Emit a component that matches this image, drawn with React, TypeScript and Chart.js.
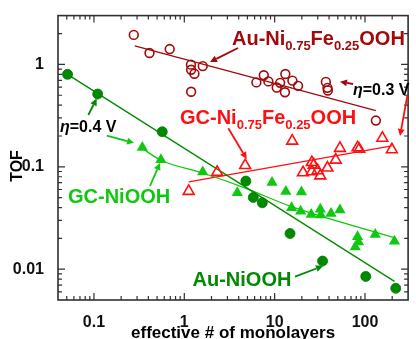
import React, { useEffect, useRef } from 'react';
import { Chart, registerables } from 'chart.js';

Chart.register(...registerables);

const FONT = '"Liberation Sans", Arial, Helvetica, sans-serif';

// ---- data ----
const auNiOOH_x = [0.051, 0.11, 0.57, 4.8, 5.8, 7.3, 14.8, 33.9, 102, 219];
const auNiOOH_y = [0.8, 0.514, 0.22, 0.0725, 0.0502, 0.0445, 0.0223, 0.012, 0.0085, 0.0065];

const gcNiOOH_x = [0.343, 0.551, 1.6, 3.86, 9.35, 13.3, 19.8, 15.4, 19.4, 25.4, 32.0, 32.4, 42.1, 52.8, 82.7, 84.8, 78.1, 129.7, 212];
const gcNiOOH_y = [0.154, 0.117, 0.089, 0.0558, 0.0701, 0.0575, 0.0567, 0.0398, 0.0368, 0.0342, 0.0385, 0.0339, 0.035, 0.0379, 0.0207, 0.0184, 0.0165, 0.0218, 0.0187];

const auNiFe_x = [0.276, 0.412, 0.689, 1.185, 1.19, 1.294, 1.19, 1.6, 6.28, 7.58, 8.52, 10.54, 11.5, 13.13, 13.0, 15.72, 18.17, 36.9, 38.4, 38.8, 132];
const auNiFe_y = [1.944, 1.293, 1.413, 0.995, 0.887, 0.812, 0.541, 0.963, 0.668, 0.784, 0.683, 0.595, 0.661, 0.807, 0.535, 0.695, 0.618, 0.675, 0.591, 0.557, 0.283];

const gcNiFe_x = [1.119, 2.31, 4.72, 15.64, 20.6, 25.8, 27.1, 25.8, 29.9, 32.0, 38.4, 47.4, 52.8, 82.7, 86.3, 155.6, 198.2];
const gcNiFe_y = [0.0577, 0.0886, 0.1034, 0.1788, 0.0879, 0.1105, 0.1043, 0.0899, 0.0919, 0.0818, 0.0976, 0.1165, 0.152, 0.154, 0.1487, 0.191, 0.1474];

// fit lines
const fitAuNiOOH_x = [0.051, 212];
const fitAuNiOOH_y = [0.8, 0.0076];
const fitGcNiOOH_x = [0.343, 0.551, 1.6, 4.8, 15.4, 215];
const fitGcNiOOH_y = [0.151, 0.116, 0.087, 0.0617, 0.0408, 0.0202];
const fitAuNiFe_x = [0.283, 132];
const fitAuNiFe_y = [1.52, 0.353];
const fitGcNiFe_x = [1.12, 198];
const fitGcNiFe_y = [0.0713, 0.16];

// axes
const xTickValues = [0.1, 1, 10, 100];
const xTickLabels = ['0.1', '1', '10', '100'];
const yTickValues = [0.01, 0.1, 1];
const yTickLabels = ['0.01', '0.1', '1'];
const xMinor = [0.04, 0.05, 0.06, 0.07, 0.08, 0.09, 0.2, 0.3, 0.4, 0.5, 0.6, 0.7, 0.8, 0.9, 2, 3, 4, 5, 6, 7, 8, 9, 20, 30, 40, 50, 60, 70, 80, 90, 200];
const yMinor = [0.005, 0.006, 0.007, 0.008, 0.009, 0.02, 0.03, 0.04, 0.05, 0.06, 0.07, 0.08, 0.09, 0.2, 0.3, 0.4, 0.5, 0.6, 0.7, 0.8, 0.9, 2];

const xTitle = 'effective # of monolayers';
const yTitle = 'TOF';

// colors
const DARK_RED = '#a00a0a';
const RED = '#ff1010';
const DARK_GREEN = '#008a00';
const LIGHT_GREEN = '#10c810';

type Part = { t: string; sub?: boolean; italic?: boolean };
const labels: { parts: Part[]; x: number; y: number; color: string; size: number }[] = [
  { parts: [{ t: 'Au-Ni' }, { t: '0.75', sub: true }, { t: 'Fe' }, { t: '0.25', sub: true }, { t: 'OOH' }], x: 232, y: 44.7, color: DARK_RED, size: 20 },
  { parts: [{ t: 'GC-Ni' }, { t: '0.75', sub: true }, { t: 'Fe' }, { t: '0.25', sub: true }, { t: 'OOH' }], x: 180, y: 123.5, color: RED, size: 20 },
  { parts: [{ t: 'GC-NiOOH' }], x: 68, y: 203, color: LIGHT_GREEN, size: 20 },
  { parts: [{ t: 'Au-NiOOH' }], x: 192.5, y: 286, color: DARK_GREEN, size: 20 },
  { parts: [{ t: 'η', italic: true }, { t: '=0.4 V' }], x: 60, y: 131.5, color: '#000', size: 16 },
  { parts: [{ t: 'η', italic: true }, { t: '=0.3 V' }], x: 353, y: 95, color: '#000', size: 16 },
];

const arrows: { x1: number; y1: number; x2: number; y2: number; color: string }[] = [
  { x1: 238, y1: 48, x2: 210, y2: 62, color: DARK_RED },
  { x1: 353, y1: 84, x2: 340, y2: 81.7, color: DARK_RED },
  { x1: 407.3, y1: 96, x2: 400, y2: 136, color: RED },
  { x1: 228.3, y1: 128.3, x2: 246.7, y2: 159, color: RED },
  { x1: 88.3, y1: 115, x2: 96.7, y2: 98.5, color: DARK_GREEN },
  { x1: 106.7, y1: 135.7, x2: 134, y2: 142.8, color: LIGHT_GREEN },
  { x1: 150, y1: 186, x2: 160, y2: 163, color: LIGHT_GREEN },
  { x1: 295, y1: 276.7, x2: 323, y2: 266, color: DARK_GREEN },
];

function zip(xs: number[], ys: number[]) {
  return xs.map((x, i) => ({ x, y: ys[i] }));
}

function drawArrow(ctx: CanvasRenderingContext2D, a: { x1: number; y1: number; x2: number; y2: number; color: string }) {
  const dx = a.x2 - a.x1;
  const dy = a.y2 - a.y1;
  const len = Math.hypot(dx, dy);
  const ux = dx / len;
  const uy = dy / len;
  const head = 7;
  const hw = 3.5;
  const bx = a.x2 - ux * head;
  const by = a.y2 - uy * head;
  ctx.save();
  ctx.strokeStyle = a.color;
  ctx.fillStyle = a.color;
  ctx.lineWidth = 1.8;
  ctx.beginPath();
  ctx.moveTo(a.x1, a.y1);
  ctx.lineTo(bx, by);
  ctx.stroke();
  ctx.beginPath();
  ctx.moveTo(a.x2, a.y2);
  ctx.lineTo(bx - uy * hw, by + ux * hw);
  ctx.lineTo(bx + uy * hw, by - ux * hw);
  ctx.closePath();
  ctx.fill();
  ctx.restore();
}

const framePlugin = {
  id: 'framePlugin',
  afterDraw(chart: any) {
    const ctx: CanvasRenderingContext2D = chart.ctx;
    const { left, right, top, bottom } = chart.chartArea;
    const xs = chart.scales.x;
    const ys = chart.scales.y;
    ctx.save();
    ctx.strokeStyle = '#303030';
    ctx.lineWidth = 1.6;
    ctx.strokeRect(left, top, right - left, bottom - top);
    ctx.lineWidth = 1.2;
    const tick = (vals: number[], len: number) => {
      ctx.beginPath();
      for (const v of vals) {
        const px = xs.getPixelForValue(v);
        if (px <= left + 0.5 || px >= right - 0.5) continue;
        ctx.moveTo(px, bottom);
        ctx.lineTo(px, bottom - len);
        ctx.moveTo(px, top);
        ctx.lineTo(px, top + len);
      }
      ctx.stroke();
    };
    const ytick = (vals: number[], len: number) => {
      ctx.beginPath();
      for (const v of vals) {
        const py = ys.getPixelForValue(v);
        if (py <= top + 0.5 || py >= bottom - 0.5) continue;
        ctx.moveTo(left, py);
        ctx.lineTo(left + len, py);
        ctx.moveTo(right, py);
        ctx.lineTo(right - len, py);
      }
      ctx.stroke();
    };
    tick(xMinor, 4);
    tick(xTickValues, 7);
    ytick(yMinor, 4);
    ytick(yTickValues, 7);

    // axis titles
    ctx.fillStyle = '#000';
    ctx.textBaseline = 'alphabetic';
    ctx.textAlign = 'center';
    ctx.font = `bold 17px ${FONT}`;
    ctx.fillText(xTitle, (left + right) / 2, 338);
    ctx.save();
    ctx.translate(21.5, 166);
    ctx.rotate(-Math.PI / 2);
    ctx.font = `bold 16px ${FONT}`;
    ctx.fillText(yTitle, 0, 0);
    ctx.restore();

    // annotations
    for (const a of arrows) drawArrow(ctx, a);
    ctx.textAlign = 'left';
    for (const l of labels) {
      let cx = l.x;
      ctx.fillStyle = l.color;
      for (const p of l.parts) {
        const size = p.sub ? Math.round(l.size * 0.65) : l.size;
        ctx.font = `${p.italic ? 'italic ' : ''}bold ${size}px ${FONT}`;
        ctx.fillText(p.t, cx, l.y + (p.sub ? 5.5 : 0));
        cx += ctx.measureText(p.t).width;
      }
    }
    ctx.restore();
  },
};

export default function App() {
  const ref = useRef<HTMLCanvasElement>(null);
  useEffect(() => {
    if (!ref.current) return;
    const chart = new Chart(ref.current, {
      type: 'scatter',
      data: {
        datasets: [
          {
            label: 'Au-NiOOH',
            data: zip(auNiOOH_x, auNiOOH_y),
            pointStyle: 'circle',
            pointRadius: 5,
            backgroundColor: DARK_GREEN,
            borderColor: '#007a00',
            borderWidth: 0.8,
          },
          {
            label: 'GC-NiOOH',
            data: zip(gcNiOOH_x, gcNiOOH_y),
            pointStyle: 'triangle',
            pointRadius: 6.5,
            backgroundColor: LIGHT_GREEN,
            borderColor: LIGHT_GREEN,
            borderWidth: 0,
          },
          {
            label: 'Au-Ni0.75Fe0.25OOH',
            data: zip(auNiFe_x, auNiFe_y),
            pointStyle: 'circle',
            pointRadius: 4.4,
            backgroundColor: 'rgba(0,0,0,0)',
            borderColor: DARK_RED,
            borderWidth: 1.6,
          },
          {
            label: 'GC-Ni0.75Fe0.25OOH',
            data: zip(gcNiFe_x, gcNiFe_y),
            pointStyle: 'triangle',
            pointRadius: 6.3,
            backgroundColor: 'rgba(0,0,0,0)',
            borderColor: RED,
            borderWidth: 1.6,
          },
          {
            type: 'line',
            label: 'fit Au-NiOOH',
            data: zip(fitAuNiOOH_x, fitAuNiOOH_y),
            borderColor: DARK_GREEN,
            borderWidth: 1.3,
            pointRadius: 0,
            fill: false,
          },
          {
            type: 'line',
            label: 'fit GC-NiOOH',
            data: zip(fitGcNiOOH_x, fitGcNiOOH_y),
            borderColor: LIGHT_GREEN,
            borderWidth: 1.3,
            pointRadius: 0,
            cubicInterpolationMode: 'monotone',
            fill: false,
          },
          {
            type: 'line',
            label: 'fit Au-NiFe',
            data: zip(fitAuNiFe_x, fitAuNiFe_y),
            borderColor: DARK_RED,
            borderWidth: 1.3,
            pointRadius: 0,
            fill: false,
          },
          {
            type: 'line',
            label: 'fit GC-NiFe',
            data: zip(fitGcNiFe_x, fitGcNiFe_y),
            borderColor: RED,
            borderWidth: 1.3,
            pointRadius: 0,
            fill: false,
          },
        ] as any,
      },
      options: {
        animation: false,
        responsive: false,
        maintainAspectRatio: false,
        layout: { padding: { top: 13, right: 1, left: 0, bottom: 0 } },
        plugins: { legend: { display: false }, tooltip: { enabled: false }, title: { display: false } },
        scales: {
          x: {
            type: 'logarithmic',
            position: 'bottom',
            min: 0.04,
            max: 300,
            grid: { display: false },
            border: { display: false },
            afterBuildTicks: (s: any) => {
              s.ticks = xTickValues.map((v) => ({ value: v }));
            },
            afterFit: (s: any) => {
              s.height = 39;
            },
            ticks: {
              autoSkip: false,
              maxRotation: 0,
              padding: 5,
              color: '#111',
              font: { family: FONT, size: 16, weight: 'bold' },
              callback: (_v: any, i: number) => xTickLabels[i],
            },
          },
          y: {
            type: 'logarithmic',
            position: 'left',
            min: 0.005,
            max: 3,
            grid: { display: false },
            border: { display: false },
            afterBuildTicks: (s: any) => {
              s.ticks = yTickValues.map((v) => ({ value: v }));
            },
            afterFit: (s: any) => {
              s.width = 58;
            },
            ticks: {
              autoSkip: false,
              padding: 6,
              color: '#111',
              font: { family: FONT, size: 16, weight: 'bold' },
              callback: (_v: any, i: number) => yTickLabels[i],
            },
          },
        },
      } as any,
      plugins: [framePlugin],
    });
    return () => chart.destroy();
  }, []);
  return (
    <div style={{ position: 'absolute', left: 0, top: 0, width: 416, height: 339, background: '#fff' }}>
      <canvas ref={ref} width={416} height={339} style={{ display: 'block' }} />
    </div>
  );
}
